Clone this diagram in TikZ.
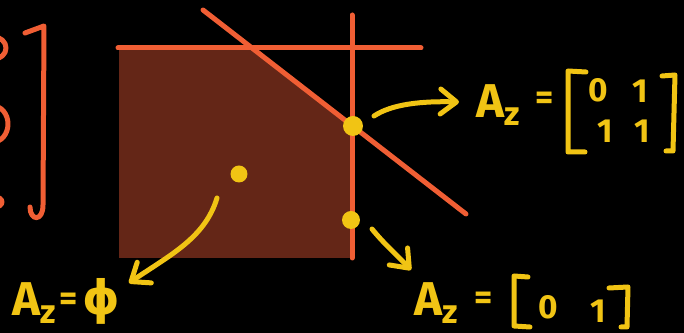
\documentclass[tikz,border=0pt]{standalone}
\usepackage{fontspec}
\setsansfont{Fira Sans}
\newfontfamily\symfont{DejaVu Sans}
\usetikzlibrary{arrows.meta}

\definecolor{penred}{RGB}{240,94,52}
\definecolor{penyellow}{RGB}{241,196,20}
\definecolor{regionbrown}{RGB}{100,38,23}

\newcommand{\subz}{\raisebox{-0.16cm}{\fontsize{19}{19}\selectfont z}}

\tikzset{
  pen/.style={penred, line width=1mm, line cap=round, line join=round},
  ink/.style={penyellow, line width=1mm, line cap=round, line join=round},
  arr/.style={ink, -{Straight Barb[length=3.2mm,width=5mm,round]}},
  dot/.style={circle, fill=penyellow, inner sep=0pt, minimum size=3.8mm},
  hand/.style={penyellow, inner sep=0pt, font=\sffamily\bfseries\fontsize{27}{29}\selectfont},
  eqs/.style={penyellow, inner sep=0pt, font=\sffamily\bfseries\fontsize{20}{22}\selectfont},
  digit/.style={penyellow, inner sep=0pt, font=\sffamily\bfseries\fontsize{19}{21}\selectfont},
}

\begin{document}
\begin{tikzpicture}[x=0.02cm, y=-0.02cm]
  \useasboundingbox (0,0) rectangle (684,333);
  \fill[black] (0,0) rectangle (684,333);
  \clip (0,0) rectangle (684,333);

  % ------- left: cut-off matrix -------
  \draw[pen] (-6,48) ellipse (12 and 11);
  \draw[pen] (-7,124) ellipse (15 and 18);
  \draw[pen] (-5,202) ellipse (7 and 5);
  \draw[pen] (25,33) -- (44,26) -- (43,205) .. controls (43,222) and (30,221) .. (30,207);

  % ------- feasible region and the three lines -------
  \fill[regionbrown] (119,48) -- (252,48) -- (352,126) -- (352,258) -- (119,258) -- cycle;
  \draw[pen] (118,48) -- (421,48);
  \draw[pen] (352,15) -- (352,258);
  \draw[pen] (203,10) -- (466,214);

  % ------- points -------
  \node[dot, minimum size=4mm] (corner) at (353,126) {};
  \node[dot, minimum size=3.4mm] (inside) at (239,174) {};
  \node[dot, minimum size=3.6mm] (edge) at (351,220) {};

  % ------- corner: A_z = [0 1; 1 1] -------
  \node[hand, anchor=base west] (azcorner) at (476,118) {A\subz};
  \node[eqs] (eqcorner) at (545,101) {=};
  \node[digit] (mzero) at (598,90) {0};
  \node[digit] (mone) at (640,91) {1};
  \node[digit] (mtwo) at (605,131) {1};
  \node[digit] (mthree) at (642,131) {1};
  \draw[ink] (586,72) -- (568,71) -- (568,152) -- (585,152);
  \draw[ink] (662,76) -- (675,75) -- (673,151) -- (666,151);
  \coordinate (cornerout) at (374,116);
  \coordinate (cornerin) at (459,102);
  \draw[arr] (cornerout) .. controls (392,104) and (422,101) .. (cornerin);

  % ------- inside: A_z = phi -------
  \node[hand, anchor=base west] (azinside) at (12,316) {A\subz};
  \node[eqs] (eqinside) at (69,302) {=};
  \node[hand] (empty) at (101,301) {\symfont\bfseries ϕ};
  \coordinate (insideout) at (217,198);
  \coordinate (insidein) at (129,283);
  \draw[arr] (insideout) .. controls (205,238) and (170,255) .. (insidein);

  % ------- edge: A_z = [0 1] -------
  \node[hand, anchor=base west] (azedge) at (414,316) {A\subz};
  \node[eqs] (eqedge) at (484,301) {=};
  \node[digit] (rzero) at (548,307) {0};
  \node[digit] (rone) at (598,311) {1};
  \draw[ink] (528,277) -- (514,276) -- (514,326) -- (530,327);
  \draw[ink] (609,288) -- (628,287) -- (627,327) -- (621,327);
  \coordinate (edgeout) at (372,229);
  \coordinate (edgein) at (411,270);
  \draw[arr] (edgeout) .. controls (385,245) and (398,256) .. (edgein);
\end{tikzpicture}
\end{document}
